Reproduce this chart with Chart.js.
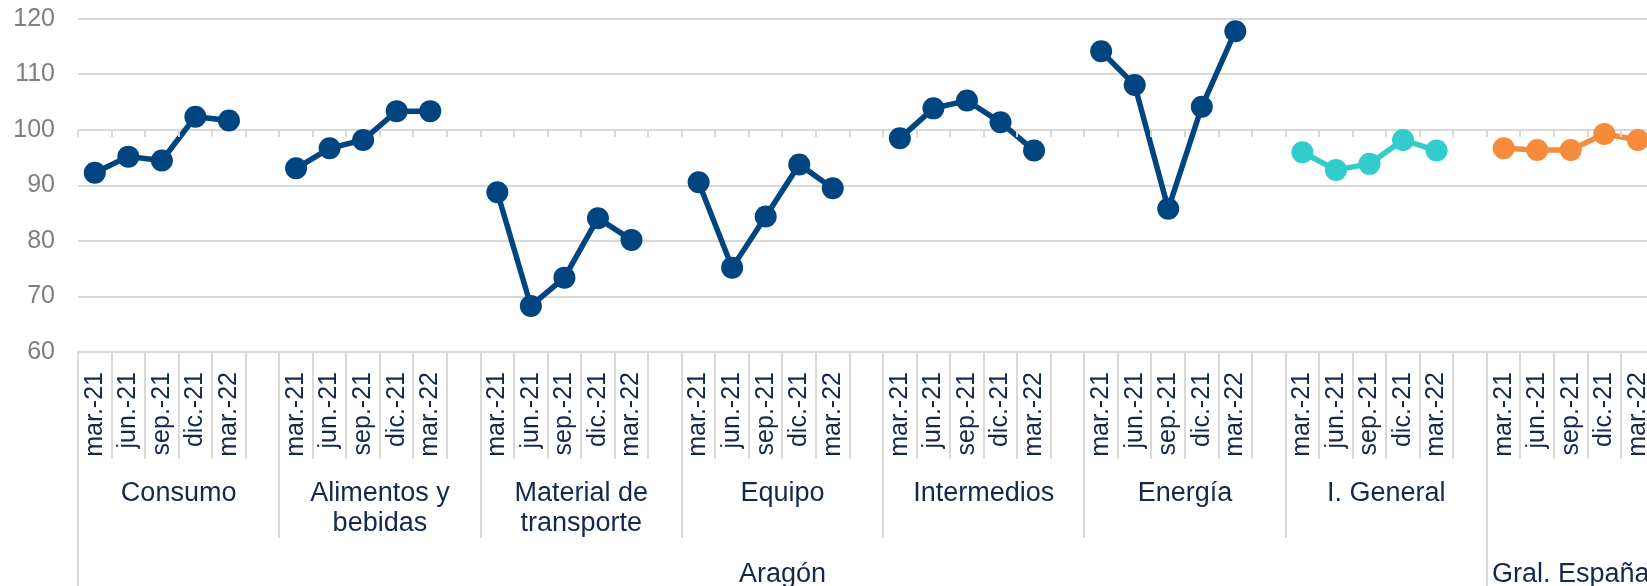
<!DOCTYPE html>
<html>
<head>
<meta charset="utf-8">
<script src="https://cdn.jsdelivr.net/npm/chart.js@4"></script>
<style>
  html, body { margin: 0; padding: 0; background: #fff; overflow: hidden; }
  #wrap { width: 1688px; height: 586px; position: relative; }
</style>
</head>
<body>
<div id="wrap"><canvas id="ipiChart"></canvas></div>
<script>
// periodos de cada grupo
const periods = ['mar.-21', 'jun.-21', 'sep.-21', 'dic.-21', 'mar.-22'];

// etiquetas de segundo nivel (sectores)
const sectors = ['Consumo', ['Alimentos y', 'bebidas'], ['Material de', 'transporte'], 'Equipo', 'Intermedios', 'Energía', 'I. General', ''];

// etiquetas de tercer nivel
const regions = ['Aragón', 'Gral. España'];
const regionSpan = [7, 1];   // numero de sectores en cada region

// valores
const consumo = [92.3, 95.2, 94.5, 102.4, 101.7];
const alimentos = [93.1, 96.7, 98.2, 103.4, 103.4];
const transporte = [88.8, 68.3, 73.4, 84.1, 80.2];
const equipo = [90.6, 75.2, 84.4, 93.8, 89.5];
const intermedios = [98.5, 103.9, 105.3, 101.4, 96.3];
const energia = [114.2, 108.1, 85.8, 104.2, 117.8];
const generalAragon = [96.0, 92.8, 93.9, 98.2, 96.3];
const generalEspana = [96.7, 96.4, 96.4, 99.3, 98.2];

const yTicks = [60, 70, 80, 90, 100, 110, 120];

const seriesValues = [consumo, alimentos, transporte, equipo, intermedios, energia, generalAragon, generalEspana];
const seriesColors = ['#00457f', '#00457f', '#00457f', '#00457f', '#00457f', '#00457f', '#33cccc', '#f68b3b'];

const navy = '#14284b';
const gridColor = '#d9d9d9';
const fontFamily = "'Liberation Sans', Arial, sans-serif";

// categorias: 5 periodos + un hueco por grupo (el ultimo sin hueco)
let labels = [];
let groupStart = [];
let groupSize = [];
for (let g = 0; g < sectors.length; g++) {
    groupStart.push(labels.length);
    labels = labels.concat(periods);
    if (g < sectors.length - 1) {
        labels.push('');
    }
    groupSize.push(labels.length - groupStart[g]);
}

let datasets = [];
for (let g = 0; g < seriesValues.length; g++) {
    let data = labels.map(() => null);
    for (let i = 0; i < seriesValues[g].length; i++) {
        data[groupStart[g] + i] = seriesValues[g][i];
    }
    datasets.push({
        data: data,
        borderColor: seriesColors[g],
        backgroundColor: seriesColors[g],
        borderWidth: 5.5,
        pointRadius: 11,
        pointHoverRadius: 11,
        pointBorderWidth: 0,
        spanGaps: false,
        tension: 0
    });
}

// lineas y etiquetas del eje de categorias de varios niveles
const multiLevelAxis = {
    id: 'multiLevelAxis',
    afterDraw(chart) {
        const ctx = chart.ctx;
        const x = chart.scales.x;
        const y = chart.scales.y;
        const bottom = chart.chartArea.bottom;
        const step = (x.right - x.left) / labels.length;
        const boundary = i => x.left + i * step;

        ctx.save();
        ctx.strokeStyle = gridColor;
        ctx.lineWidth = 2;

        // pequeñas marcas sobre la linea de 100
        const y100 = Math.round(y.getPixelForValue(100));
        for (let i = 0; i <= labels.length; i++) {
            const bx = Math.round(boundary(i));
            ctx.beginPath();
            ctx.moveTo(bx, y100);
            ctx.lineTo(bx, y100 + 7);
            ctx.stroke();
        }

        // separadores
        let regionStarts = [0];
        let acc = 0;
        for (let r = 0; r < regionSpan.length; r++) {
            acc += regionSpan[r];
            regionStarts.push(groupStart[acc] !== undefined ? groupStart[acc] : labels.length);
        }
        for (let i = 0; i <= labels.length; i++) {
            let end = bottom + 107;
            if (groupStart.includes(i)) end = bottom + 186;
            if (regionStarts.includes(i)) end = chart.height;
            const bx = Math.round(boundary(i));
            ctx.beginPath();
            ctx.moveTo(bx, bottom);
            ctx.lineTo(bx, end);
            ctx.stroke();
        }

        // etiquetas de sector
        ctx.fillStyle = navy;
        ctx.font = '27px ' + fontFamily;
        ctx.textAlign = 'center';
        ctx.textBaseline = 'middle';
        for (let g = 0; g < sectors.length; g++) {
            const cx = (boundary(groupStart[g]) + boundary(groupStart[g] + groupSize[g])) / 2;
            const lines = Array.isArray(sectors[g]) ? sectors[g] : [sectors[g]];
            for (let l = 0; l < lines.length; l++) {
                ctx.fillText(lines[l], cx, bottom + 142 + l * 30);
            }
        }

        // etiquetas de region
        let g0 = 0;
        for (let r = 0; r < regions.length; r++) {
            const first = groupStart[g0];
            const lastG = g0 + regionSpan[r] - 1;
            const last = groupStart[lastG] + groupSize[lastG];
            const cx = (boundary(first) + boundary(last)) / 2;
            ctx.fillText(regions[r], cx, bottom + 223);
            g0 += regionSpan[r];
        }
        ctx.restore();
    }
};

const ctx = document.getElementById('ipiChart').getContext('2d');

const chart = new Chart(ctx, {
    type: 'line',
    data: {
        labels: labels,
        datasets: datasets
    },
    options: {
        responsive: true,
        maintainAspectRatio: false,
        animation: false,
        layout: {
            padding: { top: 19, right: 6, bottom: 0, left: 0 }
        },
        plugins: {
            legend: { display: false },
            tooltip: { enabled: false }
        },
        scales: {
            x: {
                type: 'category',
                offset: true,
                grid: { display: false, drawTicks: false },
                border: { display: true, color: gridColor, width: 2 },
                ticks: {
                    autoSkip: false,
                    minRotation: 90,
                    maxRotation: 90,
                    padding: 20,
                    color: navy,
                    font: { size: 25, family: fontFamily }
                },
                afterFit(scale) {
                    scale.height = 234;
                }
            },
            y: {
                min: 60,
                max: 120,
                afterBuildTicks(scale) {
                    scale.ticks = yTicks.map(v => ({ value: v }));
                },
                grid: { color: gridColor, lineWidth: 2, drawTicks: false },
                border: { display: false },
                ticks: {
                    padding: 23,
                    color: '#7f7f7f',
                    font: { size: 25, family: fontFamily }
                },
                afterFit(scale) {
                    scale.width = 78;
                    scale.paddingTop = 0;
                }
            }
        }
    },
    plugins: [multiLevelAxis]
});
</script>
</body>
</html>
